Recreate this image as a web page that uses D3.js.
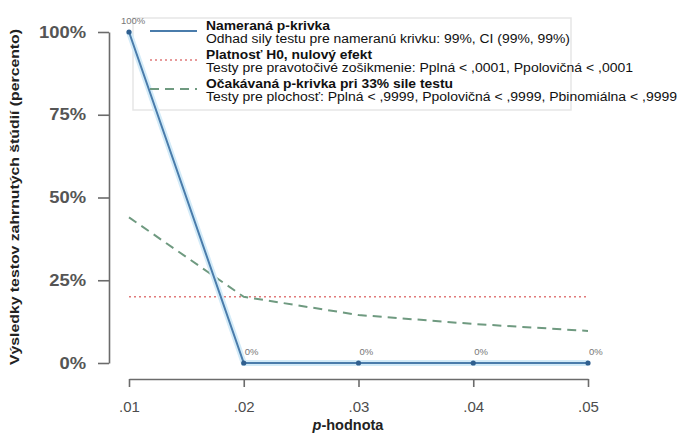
<!DOCTYPE html>
<html>
<head>
<meta charset="utf-8">
<script src="https://cdn.jsdelivr.net/npm/d3@7"></script>
<style>
  body { margin: 0; background: #fff; }
  svg { display: block; font-family: "Liberation Sans", Arial, sans-serif; }
</style>
</head>
<body>
<svg id="chart" width="679" height="434"></svg>
<script>
// p-values on the x axis
const pValues = [0.01, 0.02, 0.03, 0.04, 0.05];
const pTickLabels = [".01", ".02", ".03", ".04", ".05"];
// share of significant results (percent)
const observed = [100, 0, 0, 0, 0];
const nullLine = [20, 20, 20, 20, 20];
const power33 = [44, 20, 14.5, 11.8, 9.7];
const yTicks = [0, 25, 50, 75, 100];

const legendTitles = ["Nameraná p-krivka", "Platnosť H0, nulový efekt", "Očakávaná p-krivka pri 33% sile testu"];
const legendNotes = [
  "Odhad sily testu pre nameranú krivku: 99%, CI (99%, 99%)",
  "Testy pre pravotočivé zošikmenie: Pplná < ,0001, Ppolovičná < ,0001",
  "Testy pre plochosť: Pplná < ,9999, Ppolovičná < ,9999, Pbinomiálna < ,9999"
];

const svg = d3.select("#chart");
const x = d3.scaleLinear().domain([0.01, 0.05]).range([129, 588]);
const y = d3.scaleLinear().domain([0, 100]).range([363, 32]);

const axisColor = "#6b6b6b";

// legend frame
svg.append("rect").attr("x", 133).attr("y", 18).attr("width", 438).attr("height", 92)
  .attr("fill", "none").attr("stroke", "#e6e6e6").attr("stroke-width", 1.5);

// y axis
const yAxis = svg.append("g").attr("transform", "translate(109,0)")
  .call(d3.axisLeft(y).tickValues(yTicks).tickSize(11).tickSizeOuter(0).tickPadding(12)
    .tickFormat(d => d + "%"));
yAxis.selectAll("path, line").attr("stroke", axisColor).attr("stroke-width", 1.6);
yAxis.selectAll(".tick text")
  .attr("fill", "#555").attr("font-size", 16).attr("font-weight", "bold")
  .attr("x", -23 / 1.15).attr("transform", "scale(1.15,1)");

// x axis
const xAxis = svg.append("g").attr("transform", "translate(0,379)")
  .call(d3.axisBottom(x).tickValues(pValues).tickSize(8).tickSizeOuter(0).tickPadding(14)
    .tickFormat((d, i) => pTickLabels[i]));
xAxis.selectAll("path, line").attr("stroke", axisColor).attr("stroke-width", 1.6);
xAxis.selectAll("text").attr("fill", "#4d4d4d").attr("font-size", 15);

// axis titles
const xt = svg.append("text").attr("x", 348).attr("y", 430).attr("text-anchor", "middle")
  .attr("font-size", 14.5).attr("font-weight", "bold").attr("fill", "#222");
xt.append("tspan").attr("font-style", "italic").text("p");
xt.append("tspan").text("-hodnota");

svg.append("text").attr("transform", "translate(19,197) rotate(-90)")
  .attr("text-anchor", "middle").attr("font-size", 13.5).attr("font-weight", "bold")
  .attr("fill", "#222").attr("textLength", 336).attr("lengthAdjust", "spacingAndGlyphs")
  .text("Výsledky testov zahrnutých štúdií (percento)");

const line = d3.line().x((d, i) => x(pValues[i])).y(d => y(d));

// null effect line
svg.append("path").datum(nullLine).attr("d", line).attr("fill", "none")
  .attr("stroke", "#e07a7a").attr("stroke-width", 1.6).attr("stroke-dasharray", "2,3");

// expected curve at 33% power
svg.append("path").datum(power33).attr("d", line).attr("fill", "none")
  .attr("stroke", "#6f9a80").attr("stroke-width", 2).attr("stroke-dasharray", "9,6");

// observed curve with soft halo
svg.append("path").datum(observed).attr("d", line).attr("fill", "none")
  .attr("stroke", "#d3ebf8").attr("stroke-width", 6);
svg.append("path").datum(observed).attr("d", line).attr("fill", "none")
  .attr("stroke", "#4a7cab").attr("stroke-width", 2);
svg.selectAll("circle.pt").data(observed).join("circle").attr("class", "pt")
  .attr("cx", (d, i) => x(pValues[i])).attr("cy", d => y(d)).attr("r", 2.6).attr("fill", "#2f5f8f");

// value labels
svg.selectAll("text.val").data(observed).join("text").attr("class", "val")
  .attr("x", (d, i) => x(pValues[i]) + (d === 100 ? -8 : 1))
  .attr("y", d => y(d) - 8)
  .attr("font-size", 9.5).attr("fill", "#777")
  .text(d => d + "%");

// legend
const legendY = [31, 60, 89];
const styles = [
  { stroke: "#4a7cab", dash: null, w: 2 },
  { stroke: "#e07a7a", dash: "2,3", w: 1.6 },
  { stroke: "#6f9a80", dash: "9,6", w: 2 }
];
const titleWidths = [124, 166, 247];
const noteWidths = [364, 427, 471];
legendY.forEach((ly, i) => {
  svg.append("line").attr("x1", 150).attr("x2", 197).attr("y1", ly).attr("y2", ly)
    .attr("stroke", styles[i].stroke).attr("stroke-width", styles[i].w)
    .attr("stroke-dasharray", styles[i].dash);
  svg.append("text").attr("x", 206).attr("y", ly - 1.5).attr("font-size", 12)
    .attr("font-weight", "bold").attr("fill", "#111").attr("textLength", titleWidths[i])
    .attr("lengthAdjust", "spacingAndGlyphs").text(legendTitles[i]);
  svg.append("text").attr("x", 206).attr("y", ly + 12).attr("font-size", 12)
    .attr("fill", "#111").attr("textLength", noteWidths[i])
    .attr("lengthAdjust", "spacingAndGlyphs").text(legendNotes[i]);
});
</script>
</body>
</html>
